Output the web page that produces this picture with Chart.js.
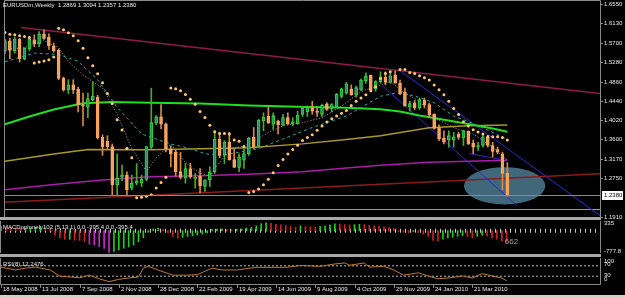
<!DOCTYPE html>
<html>
<head>
<meta charset="utf-8">
<script src="https://cdn.jsdelivr.net/npm/chart.js@4.4.1/dist/chart.umd.min.js"></script>
<style>
html, body { margin: 0; padding: 0; background: #000; width: 625px; height: 298px; overflow: hidden; }
canvas { position: absolute; left: 0; }
.sep { position: absolute; left: 0; width: 601px; height: 3px; background: #a8a8a8; }
#strip { position: absolute; left: 0; top: 295px; width: 625px; height: 3px; background: #d4d0c8; }
</style>
</head>
<body>
<div class="sep" style="top:217px"></div>
<div class="sep" style="top:254px"></div>
<div id="strip"></div>
<canvas id="main" width="625" height="222" style="top:0"></canvas>
<canvas id="macd" width="625" height="37" style="top:219px"></canvas>
<canvas id="rsi" width="625" height="40" style="top:255px"></canvas>
<script>
// weekly EURUSD candles, week 0 = 18 May 2008
const opens = [1.5530,1.5750,1.5536,1.5786,1.5358,1.5572,1.5772,1.5679,1.5893,1.5822,1.5640,1.5540,1.4930,1.4680,1.4787,1.4694,1.4359,1.4302,1.4466,1.4523,
  1.3645,1.3560,1.3445,1.2610,1.2780,1.2824,1.2539,1.2646,1.2646,1.2731,1.3431,1.3960,1.4090,1.3930,1.3396,1.3320,1.2900,1.2760,1.2967,1.2750,
  1.2803,1.2575,1.2717,1.2896,1.3610,1.3253,1.3538,1.3160,1.2990,1.3150,1.3288,1.3645,1.3446,1.4002,1.4109,1.3930,1.4000,1.3917,1.4074,1.3931,
  1.3945,1.4145,1.4200,1.4288,1.4216,1.4145,1.4373,1.4273,1.4302,1.4537,1.4609,1.4702,1.4573,1.4680,1.4880,1.5001,1.4702,1.4859,1.4951,1.4844,
  1.5001,1.4830,1.4630,1.4309,1.4395,1.4288,1.4452,1.4359,1.4145,1.3859,1.3631,1.3588,1.3588,1.3717,1.3631,1.3774,1.3517,1.3431,1.3467,1.3645,
  1.3467,1.3381,1.3288,1.2869];
const highs = [1.5790,1.5800,1.5830,1.5800,1.5600,1.5830,1.5880,1.5950,1.5990,1.5900,1.5700,1.5570,1.4960,1.4900,1.4900,1.4740,1.4608,1.4608,1.4858,1.4560,
  1.3700,1.3680,1.3500,1.3288,1.3040,1.2895,1.2824,1.3074,1.2824,1.3445,1.4716,1.4120,1.4360,1.3960,1.3460,1.3380,1.3320,1.3074,1.3080,1.2860,
  1.2967,1.2720,1.3003,1.3788,1.3752,1.3574,1.3752,1.3396,1.3288,1.3400,1.3645,1.3860,1.4038,1.4180,1.4309,1.4180,1.4020,1.4145,1.4180,1.4074,
  1.4216,1.4320,1.4330,1.4430,1.4290,1.4370,1.4400,1.4380,1.4600,1.4720,1.4844,1.4787,1.4760,1.4920,1.5051,1.5001,1.4880,1.5073,1.5073,1.5073,
  1.5094,1.4890,1.4716,1.4430,1.4450,1.4502,1.4502,1.4395,1.4159,1.3916,1.3788,1.3788,1.3752,1.3760,1.3802,1.3788,1.3588,1.3538,1.3681,1.3681,
  1.3538,1.3431,1.3324,1.3094];
const lows = [1.5470,1.5360,1.5480,1.5286,1.5330,1.5530,1.5620,1.5620,1.5780,1.5560,1.5500,1.4900,1.4650,1.4600,1.4600,1.4200,1.3895,1.4073,1.4440,1.3609,
  1.3252,1.3395,1.2396,1.2396,1.2700,1.2396,1.2503,1.2610,1.2574,1.2700,1.3395,1.3920,1.3830,1.3330,1.3003,1.2800,1.2740,1.2646,1.2753,1.2539,
  1.2432,1.2468,1.2575,1.2860,1.3200,1.3074,1.3146,1.2989,1.2896,1.2970,1.3253,1.3396,1.3430,1.3788,1.3952,1.3820,1.3720,1.3895,1.3931,1.3900,
  1.3931,1.4100,1.4100,1.4145,1.4100,1.4100,1.4230,1.4200,1.4290,1.4500,1.4587,1.4560,1.4520,1.4660,1.4823,1.4659,1.4650,1.4823,1.4787,1.4823,
  1.4823,1.4573,1.4323,1.4216,1.4250,1.4252,1.4288,1.4073,1.3824,1.3574,1.3502,1.3431,1.3431,1.3600,1.3467,1.3488,1.3288,1.3360,1.3431,1.3431,
  1.3217,1.3288,1.2503,1.2357];
const closes = [1.5750,1.5540,1.5786,1.5358,1.5586,1.5786,1.5679,1.5893,1.5800,1.5640,1.5536,1.4930,1.4680,1.4787,1.4680,1.4359,1.4323,1.4487,1.4537,1.3631,
  1.3431,1.3440,1.2610,1.2753,1.2824,1.2503,1.2646,1.2696,1.2731,1.3445,1.3966,1.4090,1.3930,1.3400,1.3288,1.2900,1.2770,1.2967,1.2789,1.2760,
  1.2589,1.2717,1.2896,1.3610,1.3253,1.3538,1.3160,1.2990,1.3217,1.3290,1.3631,1.3431,1.4016,1.4088,1.3952,1.4120,1.3920,1.4074,1.3931,1.3981,
  1.4131,1.4288,1.4300,1.4216,1.4190,1.4345,1.4252,1.4359,1.4587,1.4702,1.4809,1.4573,1.4730,1.4894,1.4987,1.4680,1.4859,1.4966,1.4844,1.4987,
  1.4823,1.4590,1.4323,1.4380,1.4288,1.4466,1.4345,1.4131,1.3838,1.3610,1.3538,1.3681,1.3659,1.3645,1.3788,1.3502,1.3431,1.3467,1.3659,1.3467,
  1.3338,1.3324,1.2860,1.2380];

// parabolic SAR, one dot per week (null = hidden)
const sarValues = [1.5929,1.5893,1.5880,1.5858,1.5843,1.5822,1.5265,1.5287,1.5308,1.5336,1.5394,1.6021,1.5987,1.5925,1.5858,1.5750,1.5586,1.5379,1.5207,1.5030,
  1.4837,1.4601,1.4381,1.4030,1.3803,1.3409,1.3203,1.2332,1.2338,1.2360,1.2396,1.2540,1.2660,1.2775,1.4720,1.4702,1.4660,1.4580,1.4473,1.4366,
  1.4210,1.4080,1.3910,1.3766,1.3730,1.3730,1.3717,1.3589,1.3560,1.3445,1.2445,1.2467,1.2518,1.2610,1.2732,1.2873,1.3032,1.3160,1.3280,1.3380,
  1.3473,1.3574,1.3640,1.3702,1.3800,1.3895,1.3980,1.4050,1.4110,1.4170,1.4231,1.4338,1.4430,1.4500,1.4574,1.4660,1.4750,1.4929,1.5036,1.5075,
  null,1.5122,1.5122,1.5058,1.5036,1.4987,1.4944,1.4895,1.4788,1.4680,1.4574,1.4430,1.4274,1.4145,1.3987,1.3890,1.3810,1.3760,1.3717,1.3666,
  1.3660,1.3660,1.3644,1.3589];

// moving averages (week, price)
const greenMaWeeks = [0,5,10,16,22,30,40,50,60,70,77,81,85,90,95,100,103];
const greenMaValues = [1.3931,1.4100,1.4252,1.4390,1.4415,1.4400,1.4380,1.4340,1.4310,1.4290,1.4259,1.4210,1.4120,1.4030,1.3938,1.3840,1.3767];
const oliveMaWeeks = [0,10,17,30,50,61,70,77,87,95,103];
const oliveMaValues = [1.3124,1.3280,1.3381,1.3374,1.3417,1.3503,1.3600,1.3680,1.3852,1.3900,1.3916];
const purpleMaWeeks = [0,10,20,30,40,50,61,70,77,87,95,103];
const purpleMaValues = [1.2503,1.2620,1.2717,1.2788,1.2810,1.2839,1.2895,1.2980,1.3039,1.3102,1.3125,1.3145];
const tealMaWeeks = [0,6,11,15,19,23,28,34,38,41,44,48,52,57,63,70,77,80,84,88,92,95,99,103];
const tealMaValues = [1.529,1.548,1.545,1.530,1.490,1.430,1.372,1.350,1.340,1.329,1.325,1.332,1.340,1.361,1.386,1.411,1.454,1.461,1.455,1.440,1.411,1.399,1.380,1.360];
const grayMaWeeks = [0,4,8,11,13,16,20,23,26,29,31,34,37,40,42,44,46,50,54,57,61,65,69,73,77,79,82,85,88,92,96,100,103];
const grayMaValues = [1.556,1.560,1.575,1.560,1.530,1.500,1.472,1.415,1.340,1.290,1.320,1.350,1.310,1.286,1.280,1.310,1.337,1.350,1.375,1.3895,1.3966,1.4073,1.4323,1.4644,1.4788,1.4858,1.4608,1.4430,1.4073,1.3859,1.3717,1.3430,1.3145];

// drawn objects: [week, price] end points
const topTrend = [[3.3, 1.6036], [122, 1.4601]];
const bottomTrend = [[-0.2, 1.2230], [122, 1.2850]];
const channelUpper = [[80.7, 1.5120], [122, 1.1940]];
const channelLower = [[77.2, 1.4788], [105.1, 1.2146]];
const channelShort = [[95.2, 1.3290], [102, 1.3160]];
const ellipseWeeks = [94.1, 110.8];
const ellipsePrices = [1.2182, 1.2996];
const lowerLevel = 1.2075;

// MACD histogram (5,13,1)
const macdValues = [140,120,110,90,80,90,100,120,130,100,40,-160,-250,-305,-300,-330,-340,-380,-470,-500,
  -560,-620,-760,-725,-670,-610,-560,-500,-390,-245,-55,60,90,40,-60,-200,-260,-230,-200,-180,
  -150,-120,-85,40,50,60,40,30,50,60,90,110,170,240,270,250,220,200,180,140,
  110,165,140,130,120,150,170,200,240,230,210,200,210,220,210,180,165,150,130,110,
  80,-30,-50,-70,-40,-60,-120,-195,-340,-360,-300,-250,-230,-195,-170,-210,-250,-200,-160,-180,
  -250,-300,-360,-395.4];
const macdRange = [-777.8, 335];

// RSI(8)
const rsiWeeks = [0,3,5,7,10,12,14,16,18,20,22,24,26,28,29,30,33,35,38,40,43,45,48,52,55,58,61,65,68,70,71,74,75,78,80,82,85,87,89,91,94,96,98,100,102,103];
const rsiValues = [65,54,61,65,54,30,27,24,34,20,9,18,23,27,61,68,47,34,34,36,61,54,54,64,64,64,71,68,77,81,72,81,65,68,54,34,43,31,20,23,31,23,40,31,23,12.2476];
const rsiLevels = [30, 70];

const priceTicks = [1.1910,1.2750,1.3170,1.3600,1.4020,1.4440,1.4860,1.5280,1.5700,1.6130,1.6550];
const dateTicks = ['18 May 2008','13 Jul 2008','7 Sep 2008','2 Nov 2008','28 Dec 2008','22 Feb 2009','19 Apr 2009','14 Jun 2009','9 Aug 2009','4 Oct 2009','29 Nov 2009','24 Jan 2010','21 Mar 2010'];
const weeksPerDateTick = 8;

const weekMin = -0.2, weekMax = 122;
const FONT = '"Liberation Sans", Arial, sans-serif';
const TEXT = '#e6e6e6';
const FRAME = '#8a8a8a';

const pts = (xs, ys) => xs.map((x, i) => ({ x: x, y: ys[i] }));
const seg = (p) => p.map(q => ({ x: q[0], y: q[1] }));
const idx = closes.map((c, i) => i);
const bull = idx.map(i => closes[i] >= opens[i]);

const xScale = { type: 'linear', min: weekMin, max: weekMax, offset: false, display: false };
const baseOpts = {
  responsive: false, animation: false, events: [],
  plugins: { legend: { display: false }, tooltip: { enabled: false } }
};

function lineSet(data, color, width, dash, order) {
  return { type: 'line', data: data, borderColor: color, borderWidth: width, borderDash: dash || [],
    pointRadius: 0, tension: 0, fill: false, order: order };
}

// ---------- main price window ----------
const mainDecor = {
  id: 'mainDecor',
  beforeDatasetsDraw(chart) {
    const { ctx, chartArea: a, scales: { x, y } } = chart;
    ctx.save();
    ctx.beginPath(); ctx.rect(a.left, a.top, a.width, a.height); ctx.clip();
    const x0 = x.getPixelForValue(ellipseWeeks[0]), x1 = x.getPixelForValue(ellipseWeeks[1]);
    const y0 = y.getPixelForValue(ellipsePrices[1]), y1 = y.getPixelForValue(ellipsePrices[0]);
    ctx.fillStyle = '#40687a';
    ctx.beginPath();
    ctx.ellipse((x0 + x1) / 2, (y0 + y1) / 2, (x1 - x0) / 2, (y1 - y0) / 2, 0, 0, Math.PI * 2);
    ctx.fill();
    const yl = Math.round(y.getPixelForValue(lowerLevel)) + 0.5;
    ctx.strokeStyle = '#9a9a9a'; ctx.lineWidth = 1;
    ctx.beginPath(); ctx.moveTo(a.left, yl); ctx.lineTo(a.right, yl); ctx.stroke();
    ctx.restore();
  },
  afterDatasetsDraw(chart) {
    const { ctx, chartArea: a, scales: { y } } = chart;
    const yb = Math.round(y.getPixelForValue(closes[closes.length - 1])) + 0.5;
    ctx.save();
    ctx.strokeStyle = '#8c8c8c'; ctx.lineWidth = 1;
    ctx.beginPath(); ctx.moveTo(a.left, yb); ctx.lineTo(a.right, yb); ctx.stroke();
    ctx.restore();
  },
  afterDraw(chart) {
    const { ctx, chartArea: a, scales: { y } } = chart;
    ctx.save();
    ctx.strokeStyle = FRAME; ctx.lineWidth = 1;
    ctx.beginPath();
    ctx.moveTo(a.left + 0.5, a.bottom); ctx.lineTo(a.left + 0.5, 0.5);
    ctx.lineTo(a.right + 0.5, 0.5); ctx.lineTo(a.right + 0.5, a.bottom);
    ctx.stroke();
    ctx.font = '6px ' + FONT; ctx.textBaseline = 'middle'; ctx.textAlign = 'left';
    ctx.fillStyle = TEXT;
    priceTicks.forEach(v => {
      const py = Math.round(y.getPixelForValue(v)) + 0.5;
      ctx.strokeStyle = FRAME;
      ctx.beginPath(); ctx.moveTo(a.right, py); ctx.lineTo(a.right + 3, py); ctx.stroke();
      ctx.fillText(v.toFixed(4), a.right + 4, py);
    });
    // current price box
    const last = closes[closes.length - 1];
    const pb = Math.round(y.getPixelForValue(last));
    ctx.fillStyle = '#ffffff';
    ctx.fillRect(a.right + 2, pb - 4, 21, 9);
    ctx.fillStyle = '#000000';
    ctx.fillText(last.toFixed(4), a.right + 4, pb + 0.5);
    // title
    const n = closes.length - 1;
    ctx.fillStyle = TEXT;
    ctx.fillText('EURUSDm,Weekly  ' + [opens[n], highs[n], lows[n], closes[n]].map(v => v.toFixed(4)).join(' '), 3, 5.5);
    ctx.restore();
  }
};

new Chart(document.getElementById('main'), {
  type: 'bar',
  data: {
    datasets: [
      { type: 'line', data: pts(idx, sarValues).filter(p => p.y !== null), showLine: false,
        pointRadius: 1.5, pointBackgroundColor: '#ffc870', pointBorderWidth: 0, order: 1 },
      { type: 'bar', data: idx.map(i => ({ x: i, y: [opens[i], closes[i]] })), grouped: false,
        barThickness: 3, minBarLength: 1, borderSkipped: false, borderWidth: 1,
        backgroundColor: idx.map(i => bull[i] ? '#2f8a6a' : '#f4a460'),
        borderColor: idx.map(i => bull[i] ? '#33d633' : '#f4a460'), order: 2 },
      { type: 'bar', data: idx.map(i => ({ x: i, y: [lows[i], highs[i]] })), grouped: false,
        barThickness: 1, borderWidth: 0,
        backgroundColor: idx.map(i => bull[i] ? '#4fa82a' : '#d48a44'), order: 3 },
      lineSet(pts(grayMaWeeks, grayMaValues), '#a8a8a8', 1, [1, 2], 4),
      lineSet(pts(tealMaWeeks, tealMaValues), '#22a4a4', 1, [3, 3], 4),
      lineSet(pts(greenMaWeeks, greenMaValues), '#1ee01e', 2, null, 5),
      lineSet(pts(oliveMaWeeks, oliveMaValues), '#a8982a', 1.5, null, 5),
      lineSet(pts(purpleMaWeeks, purpleMaValues), '#a81ea8', 1.5, null, 5),
      lineSet(seg(channelUpper), '#2a2ad0', 1, null, 6),
      lineSet(seg(channelLower), '#2a2ad0', 1, null, 6),
      lineSet(seg(channelShort), '#2a2ad0', 1, null, 6),
      lineSet(seg(topTrend), '#8e1c48', 1.5, null, 6),
      lineSet(seg(bottomTrend), '#8a1c1c', 1.5, null, 6)
    ]
  },
  options: Object.assign({}, baseOpts, {
    layout: { padding: { left: 0, right: 25, top: 1, bottom: 5 } },
    scales: { x: xScale, y: { type: 'linear', min: 1.1910, max: 1.6550, display: false } }
  }),
  plugins: [mainDecor]
});

// ---------- MACD window ----------
const macdColors = macdValues.map((v, i) => {
  const prev = i ? macdValues[i - 1] : v;
  if (v >= prev) return '#22cc22';
  return v < -450 ? '#cc22cc' : '#cc2222';
});

const macdDecor = {
  id: 'macdDecor',
  afterDraw(chart) {
    const { ctx, chartArea: a, scales: { x, y } } = chart;
    ctx.save();
    ctx.strokeStyle = FRAME; ctx.lineWidth = 1;
    ctx.beginPath();
    ctx.moveTo(a.left + 0.5, a.top); ctx.lineTo(a.left + 0.5, a.bottom);
    ctx.moveTo(a.right + 0.5, a.top); ctx.lineTo(a.right + 0.5, a.bottom);
    ctx.stroke();
    ctx.font = '6px ' + FONT; ctx.textBaseline = 'middle'; ctx.textAlign = 'left';
    ctx.fillStyle = TEXT;
    ctx.fillText(String(macdRange[1]), a.right + 4, a.top + 2.5);
    ctx.fillText(macdRange[0].toFixed(1), a.right + 4, a.bottom - 1.5);
    const lastMacd = macdValues[macdValues.length - 1].toFixed(1);
    ctx.fillText('MACDoplonely102 (5,13,1) 0.0 ' + lastMacd + ' 0.0 ' + lastMacd, 3, a.top + 6);
    ctx.fillStyle = '#a0a0a0';
    ctx.font = '8px ' + FONT;
    ctx.fillText('662', x.getPixelForValue(102.6), y.getPixelForValue(-380));
    ctx.restore();
  }
};

new Chart(document.getElementById('macd'), {
  type: 'bar',
  data: {
    datasets: [
      { type: 'bar', data: idx.map(i => ({ x: i, y: macdValues[i] })), grouped: false,
        barThickness: 1, borderWidth: 0, backgroundColor: macdColors, order: 1 },
      lineSet([{ x: weekMin, y: 0 }, { x: weekMax, y: 0 }], '#c4c4c4', 4, [1, 4], 2)
    ]
  },
  options: Object.assign({}, baseOpts, {
    layout: { padding: { left: 0, right: 25, top: 2, bottom: 3 } },
    scales: { x: xScale, y: { type: 'linear', min: macdRange[0], max: macdRange[1], display: false } }
  }),
  plugins: [macdDecor]
});

// ---------- RSI window + date axis ----------
const rsiDecor = {
  id: 'rsiDecor',
  afterDraw(chart) {
    const { ctx, chartArea: a, scales: { x, y } } = chart;
    ctx.save();
    ctx.strokeStyle = FRAME; ctx.lineWidth = 1;
    ctx.beginPath();
    ctx.moveTo(a.left + 0.5, a.top); ctx.lineTo(a.left + 0.5, a.bottom + 0.5);
    ctx.lineTo(a.right + 0.5, a.bottom + 0.5); ctx.lineTo(a.right + 0.5, a.top);
    ctx.stroke();
    ctx.font = '6px ' + FONT; ctx.textBaseline = 'middle'; ctx.textAlign = 'left';
    ctx.fillStyle = TEXT;
    ctx.fillText('100', a.right + 4, a.top + 3.5);
    ctx.fillText('70', a.right + 4, y.getPixelForValue(70) - 1.5);
    ctx.fillText('30', a.right + 4, y.getPixelForValue(30) - 1);
    ctx.fillText('0', a.right + 4, a.bottom - 4.5);
    ctx.fillText('RSI(8) ' + rsiValues[rsiValues.length - 1].toFixed(4), 3, a.top + 6);
    dateTicks.forEach((label, k) => {
      const tx = Math.round(x.getPixelForValue(k * weeksPerDateTick)) + 0.5;
      ctx.strokeStyle = FRAME;
      ctx.beginPath(); ctx.moveTo(tx, a.bottom); ctx.lineTo(tx, a.bottom + 4); ctx.stroke();
      ctx.fillText(label, tx + 1.5, a.bottom + 5.5);
    });
    ctx.restore();
  }
};

new Chart(document.getElementById('rsi'), {
  type: 'line',
  data: {
    datasets: [
      lineSet(pts(rsiWeeks, rsiValues), '#c07a28', 1, null, 1),
      lineSet([{ x: weekMin, y: rsiLevels[1] }, { x: weekMax, y: rsiLevels[1] }], '#b8b8b8', 1, [2, 2], 2),
      lineSet([{ x: weekMin, y: rsiLevels[0] }, { x: weekMax, y: rsiLevels[0] }], '#b8b8b8', 1, [2, 2], 2)
    ]
  },
  options: Object.assign({}, baseOpts, {
    layout: { padding: { left: 0, right: 25, top: 3, bottom: 11 } },
    scales: { x: xScale, y: { type: 'linear', min: 0, max: 100, display: false } }
  }),
  plugins: [rsiDecor]
});
</script>
</body>
</html>
